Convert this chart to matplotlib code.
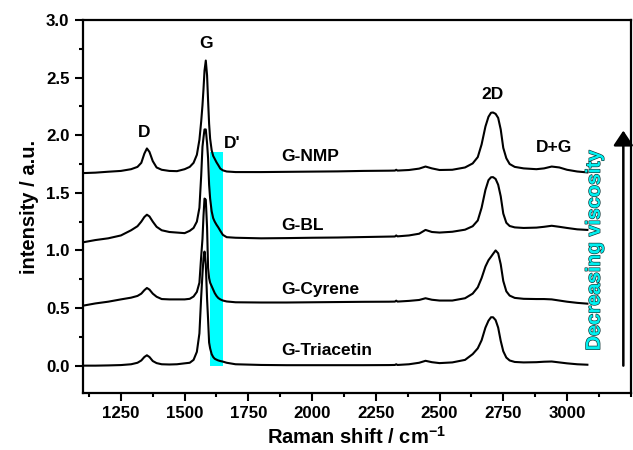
import matplotlib
matplotlib.use("Agg")
import matplotlib.pyplot as plt
import matplotlib.patheffects as pe
from matplotlib.patches import Rectangle
from matplotlib.ticker import MultipleLocator, FormatStrFormatter

plt.rcParams['font.family'] = ['Liberation Sans', 'DejaVu Sans']
plt.rcParams['font.weight'] = 'bold'
plt.rcParams['mathtext.fontset'] = 'custom'
plt.rcParams['mathtext.rm'] = 'Liberation Sans:bold'
plt.rcParams['mathtext.bf'] = 'Liberation Sans:bold'
plt.rcParams['mathtext.default'] = 'bf'

# Raman shift (cm^-1) sample positions
shift = [1100, 1150, 1200, 1250, 1290, 1315, 1330, 1342, 1352, 1362, 1375, 1390, 1410, 1440, 1470,
         1500, 1520, 1535, 1548, 1558, 1565, 1570, 1574, 1578, 1583, 1588, 1592, 1596, 1600, 1606,
         1612, 1618, 1625, 1632, 1640, 1650, 1665, 1700, 1800, 1900, 2000, 2100, 2200, 2300, 2325,
         2330, 2335, 2380, 2420, 2445, 2470, 2500, 2550, 2600, 2630, 2650, 2665, 2680, 2692, 2702,
         2710, 2720, 2730, 2740, 2750, 2762, 2775, 2795, 2830, 2880, 2910, 2940, 2970, 3000, 3040, 3080]

nmp = [1.671, 1.675, 1.683, 1.690, 1.705, 1.725, 1.760, 1.840, 1.885, 1.855, 1.775, 1.720, 1.700, 1.690, 1.688,
       1.705, 1.725, 1.760, 1.830, 1.960, 2.120, 2.260, 2.400, 2.560, 2.648, 2.520, 2.300, 2.100, 1.970, 1.870,
       1.820, 1.795, 1.765, 1.740, 1.710, 1.695, 1.685, 1.680, 1.680, 1.682, 1.684, 1.686, 1.690, 1.692, 1.693,
       1.700, 1.693, 1.698, 1.710, 1.728, 1.712, 1.698, 1.700, 1.720, 1.755, 1.810, 1.920, 2.075, 2.160, 2.195,
       2.197, 2.185, 2.150, 2.050, 1.890, 1.800, 1.750, 1.725, 1.712, 1.705, 1.712, 1.728, 1.720, 1.700, 1.685, 1.677]

bl = [1.070, 1.090, 1.105, 1.130, 1.175, 1.210, 1.250, 1.290, 1.310, 1.295, 1.250, 1.205, 1.175, 1.160, 1.155,
      1.150, 1.170, 1.195, 1.250, 1.370, 1.650, 1.900, 1.980, 2.050, 2.050, 1.930, 1.800, 1.570, 1.450, 1.340,
      1.280, 1.250, 1.223, 1.200, 1.170, 1.135, 1.115, 1.110, 1.105, 1.107, 1.110, 1.112, 1.116, 1.120, 1.121,
      1.130, 1.122, 1.130, 1.145, 1.178, 1.160, 1.155, 1.162, 1.180, 1.210, 1.260, 1.370, 1.525, 1.610, 1.635,
      1.636, 1.620, 1.570, 1.470, 1.320, 1.240, 1.212, 1.200, 1.195, 1.198, 1.205, 1.214, 1.205, 1.195, 1.183, 1.178]

cyrene = [0.520, 0.540, 0.555, 0.575, 0.590, 0.605, 0.625, 0.655, 0.674, 0.660, 0.625, 0.598, 0.578, 0.575, 0.575,
          0.575, 0.580, 0.600, 0.640, 0.720, 0.950, 1.100, 1.300, 1.450, 1.440, 1.200, 0.850, 0.760, 0.720, 0.690,
          0.660, 0.630, 0.605, 0.587, 0.575, 0.565, 0.557, 0.550, 0.548, 0.548, 0.550, 0.552, 0.554, 0.555, 0.556,
          0.564, 0.556, 0.562, 0.570, 0.585, 0.572, 0.565, 0.565, 0.585, 0.625, 0.680, 0.760, 0.860, 0.915, 0.945,
          0.970, 1.000, 0.975, 0.880, 0.735, 0.645, 0.608, 0.588, 0.580, 0.578, 0.578, 0.575, 0.565, 0.555, 0.545, 0.538]

triacetin = [0.000, 0.000, 0.002, 0.005, 0.012, 0.025, 0.045, 0.075, 0.090, 0.075, 0.040, 0.022, 0.012, 0.010, 0.012,
             0.020, 0.025, 0.050, 0.120, 0.280, 0.600, 0.800, 0.930, 0.990, 0.880, 0.580, 0.400, 0.200, 0.150, 0.100,
             0.075, 0.060, 0.052, 0.045, 0.040, 0.035, 0.025, 0.012, 0.006, 0.004, 0.004, 0.004, 0.004, 0.005, 0.006,
             0.012, 0.006, 0.012, 0.025, 0.042, 0.030, 0.022, 0.028, 0.050, 0.100, 0.150, 0.220, 0.330, 0.390, 0.420,
             0.420, 0.395, 0.330, 0.215, 0.125, 0.070, 0.045, 0.032, 0.028, 0.030, 0.034, 0.036, 0.028, 0.020, 0.012, 0.008]

series = [nmp, bl, cyrene, triacetin]
sample_names = ["G-NMP", "G-BL", "G-Cyrene", "G-Triacetin"]
name_y = [1.815, 1.214, 0.66, 0.133]
name_x = 1879

peak_names = ["D", "G", "D'", "2D", "D+G"]
peak_x = [1343, 1586, 1686, 2706, 2948]
peak_y = [2.02, 2.80, 1.93, 2.35, 1.89]

band_range = (1600, 1650)
band_top = 1.85

arrow_x = 3221
arrow_range = (0.0, 2.04)

fig = plt.figure(figsize=(6.33, 4.5), dpi=100)
ax = fig.add_axes([0.1306, 0.126, 0.8658, 0.8296])

ax.add_patch(Rectangle((band_range[0], 0), band_range[1] - band_range[0], band_top,
                       facecolor='#00FFFF', edgecolor='none', zorder=1))

for ys in series:
    ax.plot(shift, ys, color='black', lw=1.5, zorder=3, solid_joinstyle='round')

for name, yy in zip(sample_names, name_y):
    ax.text(name_x, yy, name, fontsize=12.5, fontweight='bold', ha='left', va='center', zorder=4)

for name, xx, yy in zip(peak_names, peak_x, peak_y):
    ax.text(xx, yy, name, fontsize=12.5, fontweight='bold', ha='center', va='center', zorder=4)

ax.annotate('', xy=(arrow_x, arrow_range[1]), xytext=(arrow_x, arrow_range[0]),
            arrowprops=dict(arrowstyle='-|>,head_length=0.45,head_width=0.3', color='black',
                            lw=1.8, mutation_scale=20, shrinkA=0, shrinkB=0))
t = ax.text(3107, 1.0, 'Decreasing viscosity', rotation=90, fontsize=14.5, fontweight='bold',
            color='#00F0F0', ha='center', va='center', zorder=5)
t.set_path_effects([pe.Stroke(linewidth=0.9, foreground='#103030'), pe.Normal()])

ax.set_xlim(1100, 3250)
ax.set_ylim(-0.24, 3.0)
ax.xaxis.set_major_locator(MultipleLocator(250))
ax.xaxis.set_minor_locator(MultipleLocator(125))
ax.yaxis.set_major_locator(MultipleLocator(0.5))
ax.yaxis.set_minor_locator(MultipleLocator(0.25))
ax.yaxis.set_major_formatter(FormatStrFormatter('%.1f'))
ax.set_xticks([1250, 1500, 1750, 2000, 2250, 2500, 2750, 3000])

ax.tick_params(which='major', direction='out', length=5.5, width=1.5, labelsize=12.2, pad=4)
ax.tick_params(which='minor', direction='out', length=3, width=1.5)
for lab in ax.get_xticklabels() + ax.get_yticklabels():
    lab.set_fontweight('bold')
for sp in ax.spines.values():
    sp.set_linewidth(1.6)

ax.set_xlabel('Raman shift / cm$^{-1}$', fontsize=14.5, fontweight='bold', labelpad=3)
ax.set_ylabel('intensity / a.u.', fontsize=14.5, fontweight='bold', labelpad=5)

fig.savefig('out.png', dpi=100)
